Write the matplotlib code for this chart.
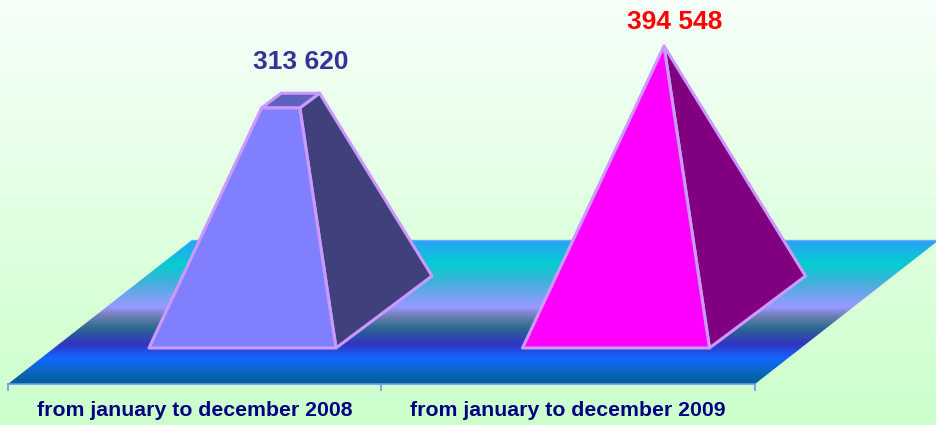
import matplotlib
matplotlib.use("Agg")
import matplotlib.pyplot as plt
import numpy as np
from matplotlib.colors import LinearSegmentedColormap
from matplotlib.patches import Polygon

plt.rcParams['font.family'] = ['Liberation Sans', 'DejaVu Sans']

# data
periods = ["from january to december 2008", "from january to december 2009"]
values = [313620, 394548]
value_labels = ["313 620", "394 548"]
label_colors = ["#333399", "#FF0000"]
front_colors = ["#8080FF", "#FF00FF"]
side_colors = ["#40407C", "#800080"]
top_colors = ["#6060C0", "#C000C0"]
edge_color = "#CC99FF"

# layout, all in pixels of the 937x425 picture
W, H = 937, 425
slot_left = 8
slot_w = 373.5
floor_front = 384
floor_back = 240
floor_shift = 184
bar_y = 348      # front edge of the pyramid bases
bar_pad = 141    # left margin of the base in its slot
bar_w = 187
depth_x = 96
depth_y = 72
peak_px = 302    # height in px of the axis maximum
peak_x = 141.5   # apex sits this far right of base front left
y_max = 394548

fig = plt.figure(figsize=(W / 100, H / 100), dpi=100)
ax = fig.add_axes([0, 0, 1, 1])
ax.set_xlim(0, W)
ax.set_ylim(H, 0)
ax.axis("off")

# background
bg = LinearSegmentedColormap.from_list("bg", ["#F6FFF9", "#E2FFE2", "#CCFFCC"])
ax.imshow(np.linspace(0, 1, 256).reshape(-1, 1), cmap=bg, extent=[0, W, H, 0],
          aspect="auto", zorder=0)

# floor with banded gradient
floor_stops = [(240, "#29A3F7"), (264, "#05CCD0"), (283, "#45B0DC"), (307, "#9999FF"),
               (316, "#6F7FB5"), (328, "#2C6A90"), (344, "#3333C0"), (358, "#1166FF"),
               (370, "#0A68C8"), (384, "#005F94")]
floor_cmap = LinearSegmentedColormap.from_list(
    "floor", [((y - floor_back) / (floor_front - floor_back), c) for y, c in floor_stops])
floor_right = slot_left + 2 * slot_w
floor_pts = [(slot_left, floor_front), (floor_right, floor_front),
             (floor_right + floor_shift, floor_back), (slot_left + floor_shift, floor_back)]
im = ax.imshow(np.linspace(0, 1, 256).reshape(-1, 1), cmap=floor_cmap,
               extent=[0, W + 20, floor_front, floor_back], aspect="auto", zorder=1)
clip = Polygon(floor_pts, closed=True, transform=ax.transData, fc="none", ec="none")
ax.add_patch(clip)
im.set_clip_path(clip)
ax.set_xlim(0, W)
ax.set_ylim(H, 0)
ax.plot([slot_left + floor_shift, W], [floor_back, floor_back], color="#66AAFF", lw=1, zorder=2)
ax.plot([slot_left, floor_right], [floor_front, floor_front], color="#6699EE", lw=1.2, zorder=2)

# ticks under the floor
for i in range(len(periods) + 1):
    x = slot_left + i * slot_w
    ax.plot([x, x], [floor_front, floor_front + 6], color="#6699EE", lw=1.2, zorder=2)

# pyramids, cut off at their value
for i, v in enumerate(values):
    x0 = slot_left + i * slot_w + bar_pad
    x1 = x0 + bar_w
    xb, yb = x1 + depth_x, bar_y - depth_y
    apex = (x0 + peak_x, bar_y - peak_px)
    t = v / y_max

    def cut(px, py):
        return px + (apex[0] - px) * t, py + (apex[1] - py) * t

    fl, fr, br = cut(x0, bar_y), cut(x1, bar_y), cut(xb, yb)
    bl = cut(x0 + depth_x, yb)
    style = dict(closed=True, ec=edge_color, lw=2.2, joinstyle="round", zorder=3)
    ax.add_patch(Polygon([(x1, bar_y), (xb, yb), br, fr], fc=side_colors[i], **style))
    if t < 1:
        ax.add_patch(Polygon([fl, fr, br, bl], fc=top_colors[i], **style))
    ax.add_patch(Polygon([(x0, bar_y), (x1, bar_y), fr, fl], fc=front_colors[i], **style))

    ax.text((x0 + x1) / 2 + 58.5, min(fl[1], br[1]) - (19 if t < 1 else 12), value_labels[i],
            color=label_colors[i], fontsize=19, fontweight="bold",
            ha="center", va="bottom", zorder=4)
    ax.text(slot_left + (i + 0.5) * slot_w, 411, periods[i], color="#000080", fontsize=15.3,
            fontweight="bold", ha="center", va="center", zorder=4)

fig.savefig("out.png", dpi=100)
